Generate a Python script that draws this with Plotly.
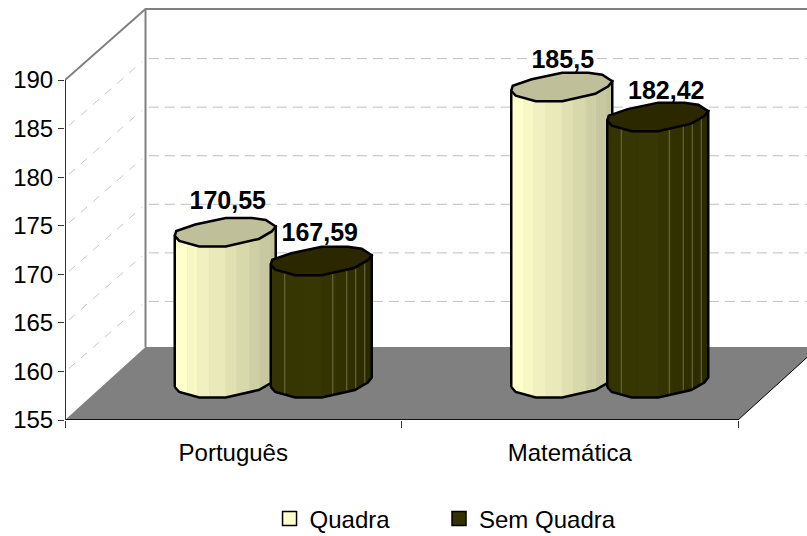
import numpy as np
import plotly.graph_objects as go

categories = ["Português", "Matemática"]
series_names = ["Quadra", "Sem Quadra"]
quadra = [170.55, 185.5]
sem_quadra = [167.59, 182.42]
label_quadra = ["170,55", "185,5"]
label_sem = ["167,59", "182,42"]
y_ticks = [155, 160, 165, 170, 175, 180, 185, 190]

W, H = 807, 536
LEFT, BOTTOM_PX = 65, 420
PX_PER_CAT = 336.5
PX_PER_UNIT = 9.714
Y0 = 155
XMAX = (W - LEFT) / PX_PER_CAT
YMAX = Y0 + BOTTOM_PX / PX_PER_UNIT


def ux(px):
    return np.asarray(px, dtype=float) / PX_PER_CAT


def uy(px):
    """pixels upward -> value delta"""
    return np.asarray(px, dtype=float) / PX_PER_UNIT


DEPTH_X, DEPTH_Y = 80.5, 70
BAR_OFFSET = 48
MID_X, MID_Y = 40, 36.5

LOWER = np.array([(-50.5, 3.5), (-46, 8.5), (-26, 14), (0.5, 14), (33.5, 6.5), (46.5, -1), (50.5, -6)])
UPPER = np.array([(-50.5, 3.5), (-49, -1.5), (-30, -8), (0.5, -14.5), (26.5, -14.5), (40.5, -12.5), (50.5, -6)])

LIGHT_EDGES = [-50.5, -38, -28, -16, 0.5, 11, 24, 34, 44, 50.5]
LIGHT_COLS = ["#FFFFCC", "#F8F8C6", "#F0F0C0", "#E9E9BA", "#E0E0B3", "#D8D8AD", "#CFCFA6", "#C8C8A0", "#C4C49C"]
LIGHT_TOP = "#BFBF99"
DARK_EDGES = [-50.5, -36, -20, 0.5, 15, 26, 36, 44, 50.5]
DARK_COLS = ["#343402", "#363603", "#373703", "#343402", "#313100", "#2E2E00", "#2C2C00", "#2A2A00"]
DARK_TOP = "#2B2800"
DARK_LINES = [-36.5, 11.5, 25.5, 34.5, 43.5]

fig = go.Figure()


def poly(xs, ys, fill=None, line=None, width=1, dash=None, mode="lines"):
    kw = dict(x=list(xs), y=list(ys), mode=mode, showlegend=False, hoverinfo="skip",
              line=dict(color=line or "rgba(0,0,0,0)", width=width if line else 0, dash=dash))
    if fill:
        kw.update(fill="toself", fillcolor=fill)
    fig.add_trace(go.Scatter(**kw))


# floor, then walls
back = ux(DEPTH_X)
poly([0, back, 2 + back, 2], [Y0, Y0 + uy(73), Y0 + uy(73), Y0], fill="#808080")
for v in y_ticks[1:-1]:
    poly([0.012, back - 0.01], [v + uy(3), v + uy(DEPTH_Y - 3)], line="#C8C8C8", width=1, dash="8px,8px")
    poly([back + 0.01, XMAX], [v + uy(DEPTH_Y)] * 2, line="#C0C0C0", width=1, dash="10px,6px")
poly([0, back, XMAX], [y_ticks[-1], y_ticks[-1] + uy(71), y_ticks[-1] + uy(71)], line="#808080", width=2)
poly([back, back], [Y0 + uy(73), y_ticks[-1] + uy(71)], line="#808080", width=2)
poly([2, 2 + back], [Y0, Y0 + uy(73)], line="#000000", width=1)


def cylinder(cat, off, value, edges, cols, top, lines):
    cx = cat + 0.5 + ux(MID_X + off)
    y_base = Y0 + uy(MID_Y)
    y_top = value + uy(MID_Y)
    lx, ly = LOWER[:, 0], -LOWER[:, 1]
    # solid silhouette under the shading strips
    px = cx + ux(lx)
    poly(np.concatenate((px, px[::-1])),
         np.concatenate((y_base + uy(ly), (y_top + uy(ly))[::-1])), fill=cols[len(cols) // 2])
    for a, b, c in zip(edges[:-1], edges[1:], cols):
        inner = lx[(lx > a) & (lx < b)]
        xs = np.concatenate(([a], inner, [b]))
        prof = np.interp(xs, lx, ly)
        sx = cx + ux(xs)
        poly(np.concatenate((sx, sx[::-1])),
             np.concatenate((y_base + uy(prof), (y_top + uy(prof))[::-1])), fill=c)
    for e in lines:
        p = np.interp(e, lx, ly)
        poly([cx + ux(e)] * 2, [y_base + uy(p), y_top + uy(p)], line="#6F6F45", width=1)
    # outline of the body
    poly(np.concatenate((px, [px[-1], px[0], px[0]])),
         np.concatenate((y_base + uy(ly), [y_top + uy(ly[-1]), y_top + uy(ly[0]), y_base + uy(ly[0])])),
         line="#000000", width=2.5)
    # cap
    cap = np.vstack((LOWER, UPPER[::-1]))
    poly(cx + ux(cap[:, 0]), y_top + uy(-cap[:, 1]), fill=top, line="#000000", width=2.5)


for c in range(len(categories)):
    cylinder(c, -BAR_OFFSET, quadra[c], LIGHT_EDGES, LIGHT_COLS, LIGHT_TOP, [])
    cylinder(c, BAR_OFFSET, sem_quadra[c], DARK_EDGES, DARK_COLS, DARK_TOP, DARK_LINES)

# front axis lines
poly([0, 2], [Y0, Y0], line="#111111", width=2)
poly([0, 0], [Y0, y_ticks[-1]], line="#333333", width=2)

# value labels
label_nudge_q = [2.5, 1]
label_nudge_s = [-1.5, 8.5]
label_rise_q = [30, 25.5]
label_rise_s = [26.5, 24.5]
for vals, txt, nud, rise, off in [(quadra, label_quadra, label_nudge_q, label_rise_q, -BAR_OFFSET),
                                  (sem_quadra, label_sem, label_nudge_s, label_rise_s, BAR_OFFSET)]:
    fig.add_trace(go.Scatter(
        x=[i + 0.5 + ux(MID_X + off + nud[i]) for i in range(len(vals))],
        y=[vals[i] + uy(MID_Y + rise[i]) for i in range(len(vals))],
        text=txt, mode="text", textposition="middle center", showlegend=False, hoverinfo="skip",
        textfont=dict(family="Liberation Sans", size=25, color="#000000", weight="bold")))

# legend entries, one legend each so the two can sit at their own places
for name, col, leg in zip(series_names, ["#FFFFCC", "#333300"], ["legend", "legend2"]):
    fig.add_trace(go.Scatter(x=[None], y=[None], mode="markers", name=name, legend=leg,
                             marker=dict(symbol="square", size=14, color=col,
                                         line=dict(color="#000000", width=1.5))))

legend_style = dict(orientation="h", y=0.032, xanchor="left", yanchor="middle",
                    yref="container", xref="container", bgcolor="rgba(0,0,0,0)",
                    font=dict(family="Liberation Sans", size=24))

fig.update_layout(
    width=W, height=H, autosize=False,
    margin=dict(l=LEFT, r=0, t=0, b=H - BOTTOM_PX, pad=0),
    paper_bgcolor="#FFFFFF", plot_bgcolor="#FFFFFF",
    font=dict(family="Liberation Sans", size=24, color="#000000"),
    showlegend=True,
    legend=dict(x=0.334, **legend_style),
    legend2=dict(x=0.544, **legend_style),
    xaxis=dict(range=[0, XMAX], showgrid=False, zeroline=False, showline=False,
               tickmode="array", tickvals=[i + 0.5 for i in range(len(categories))],
               ticktext=categories, ticks="", ticklen=0, ticklabelstandoff=16,
               minor=dict(tickmode="array", tickvals=[0, 1, 2], ticks="outside", ticklen=7,
                          tickwidth=1, tickcolor="#333333", showgrid=False)),
    yaxis=dict(range=[Y0, YMAX], showgrid=False, zeroline=False, showline=False,
               tickmode="array", tickvals=y_ticks, ticktext=[str(t) for t in y_ticks],
               ticks="outside", ticklen=6, tickwidth=1, tickcolor="#333333"),
)
fig.write_html("out.html", config={"displayModeBar": False},
               post_script="document.body.style.margin='0';document.documentElement.style.overflow='hidden';")
